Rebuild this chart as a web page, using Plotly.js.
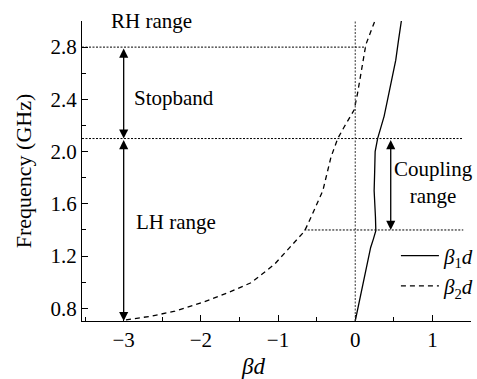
<!DOCTYPE html>
<html>
<head>
<meta charset="utf-8">
<script src="https://cdn.plot.ly/plotly-3.0.1.min.js"></script>
</head>
<body style="margin:0;padding:0;background:#fff">
<div id="chart" style="width:477px;height:379px"></div>
<script>
// β1·d branch (solid)
const beta1X = [0, 0.058, 0.116, 0.16, 0.20, 0.235, 0.267, 0.262, 0.25, 0.245, 0.252, 0.258, 0.29, 0.33, 0.374, 0.42, 0.46, 0.525, 0.56, 0.60];
const beta1F = [0.703, 0.87, 1.035, 1.15, 1.266, 1.33, 1.395, 1.5, 1.62, 1.7, 1.85, 2.0, 2.10, 2.19, 2.27, 2.40, 2.52, 2.70, 2.85, 3.01];
// β2·d branch (dashed)
const beta2X = [-2.97, -2.94, -2.64, -2.335, -1.99, -1.646, -1.346, -1.045, -0.787, -0.658, -0.594, -0.42, -0.314, -0.227, -0.142, -0.013, 0.03, 0.138, 0.267];
const beta2F = [0.712, 0.715, 0.74, 0.779, 0.843, 0.92, 0.997, 1.138, 1.305, 1.39, 1.47, 1.70, 1.958, 2.10, 2.19, 2.32, 2.446, 2.82, 3.02];

// band edges (GHz) and the dotted guide extents (βd)
const guideFreqs = [2.8, 2.1, 1.4];
const guideStarts = [-3.54, -3.54, -0.66];
const guideEnds = [0.14, 1.39, 1.40];
// band arrows: x position, from, to
const arrowXs = [-3, -3, 0.46];
const arrowFrom = [2.8, 2.1, 2.1];
const arrowTo = [2.1, 0.703, 1.4];

const seriesNames = ['<i>β</i><sub>1</sub><i>d</i>', '<i>β</i><sub>2</sub><i>d</i>'];
const yTitle = 'Frequency (GHz)';
const xTitle = '<i>βd</i>';

const FONT = 'Liberation Serif';

const traces = [
  {x: beta1X, y: beta1F, name: seriesNames[0], mode: 'lines', line: {color: '#000', width: 1.3}},
  {x: beta2X, y: beta2F, name: seriesNames[1], mode: 'lines', line: {color: '#000', width: 1.3, dash: '5px,4px'}}
];

const shapes = guideFreqs.map((f, i) => ({
  type: 'line', xref: 'x', yref: 'y', x0: guideStarts[i], x1: guideEnds[i], y0: f, y1: f,
  line: {color: '#000', width: 1, dash: '2px,1.5px'}
}));
shapes.push({type: 'line', xref: 'x', yref: 'y', x0: 0, x1: 0, y0: 0.703, y1: 3.0,
  line: {color: '#333', width: 1, dash: '2px,1.5px'}});

const annotations = arrowXs.map((x, i) => ({
  x: x, y: arrowTo[i], ax: x, ay: arrowFrom[i], xref: 'x', yref: 'y', axref: 'x', ayref: 'y',
  text: '', showarrow: true, arrowside: 'end+start', arrowhead: 2, startarrowhead: 2,
  arrowsize: 1.4, startarrowsize: 1.4, arrowwidth: 1.3, arrowcolor: '#000', standoff: 0, startstandoff: 0
}));
const txt = (text, x, y, extra) => Object.assign({text, x, y, xref: 'x', yref: 'y', showarrow: false,
  font: {family: FONT, size: 21, color: '#000'}}, extra || {});
annotations.push(txt('RH range', -2.635, 3.0, {yanchor: 'middle'}));
annotations.push(txt('Stopband', -2.35, 2.41));
annotations.push(txt('LH range', -2.32, 1.46));
annotations.push(txt('Coupling<br>range', 1.02, 1.76));
annotations.push({text: xTitle, xref: 'paper', yref: 'paper', x: 0.44, y: -0.153, showarrow: false,
  yanchor: 'middle', font: {family: FONT, size: 23, color: '#000'}});

const axisCommon = {
  showline: true, linecolor: '#000', linewidth: 1.3, showgrid: false, zeroline: false,
  ticks: 'inside', ticklen: 6, tickwidth: 1.3, tickcolor: '#000',
  tickfont: {family: FONT, size: 21, color: '#000'}, mirror: false
};

const layout = {
  width: 477, height: 379,
  margin: {l: 82, r: 6, t: 21, b: 58, autoexpand: false},
  paper_bgcolor: '#fff', plot_bgcolor: '#fff',
  showlegend: true,
  legend: {x: 0.807, y: 0.285, xanchor: 'left', yanchor: 'top', bgcolor: 'rgba(0,0,0,0)',
    font: {family: FONT, size: 21, color: '#000'}, itemwidth: 38, tracegroupgap: 0},
  xaxis: Object.assign({}, axisCommon, {range: [-3.54, 1.5], tick0: 0, dtick: 1,
    minor: {dtick: 0.5, ticks: 'inside', ticklen: 4, tickwidth: 1.2, tickcolor: '#000'}}),
  yaxis: Object.assign({}, axisCommon, {range: [0.703, 3.0], tick0: 0.8, dtick: 0.4, tickformat: '.1f',
    minor: {tick0: 0, dtick: 0.2, ticks: 'inside', ticklen: 4, tickwidth: 1.2, tickcolor: '#000'},
    title: {text: yTitle, font: {family: FONT, size: 22, color: '#000'}, standoff: 12}}),
  shapes: shapes,
  annotations: annotations
};

Plotly.newPlot('chart', traces, layout, {displayModeBar: false});
</script>
</body>
</html>
